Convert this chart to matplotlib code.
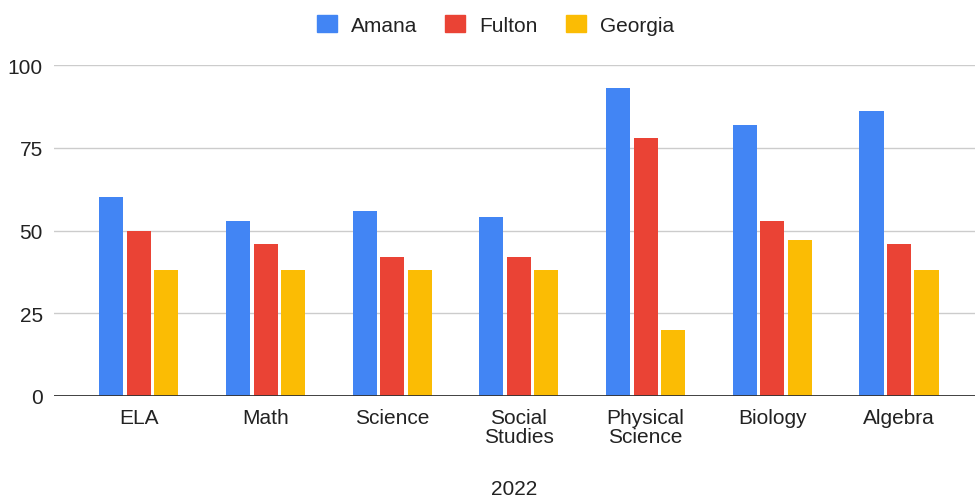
import numpy as np
import matplotlib
matplotlib.use("Agg")
import matplotlib.pyplot as plt
from matplotlib.patches import Patch

# datos
materias = ["ELA", "Math", "Science", "Social\nStudies", "Physical\nScience", "Biology", "Algebra"]
amana = [60, 53, 56, 54, 93, 82, 86]
fulton = [50, 46, 42, 42, 78, 53, 46]
georgia = [38, 38, 38, 38, 20, 47, 38]
series = ["Amana", "Fulton", "Georgia"]
colores = ["#4285F4", "#EA4335", "#FBBC04"]

plt.rcParams["font.family"] = ["Liberation Sans", "DejaVu Sans"]
tam = 15

fig = plt.figure(figsize=(9.75, 5.02), dpi=100)
ax = fig.add_axes([54 / 975, 1 - 397 / 502, 1 - 54 / 975, (397 - 66) / 502])

x = np.arange(len(materias))
paso = 0.217
ancho = 0.19
for k, (vals, col) in enumerate(zip([amana, fulton, georgia], colores)):
    ax.bar(x + (k - 1) * paso, vals, width=ancho, color=col, zorder=3)

ax.set_xlim(-0.67, 6.60)
ax.set_ylim(0, 100)
ax.set_yticks([0, 25, 50, 75, 100])
ax.grid(axis="y", color="#cccccc", linewidth=1, zorder=0)
ax.axhline(0, color="#333333", linewidth=1.3, zorder=4)

for lado in ["top", "right", "left", "bottom"]:
    ax.spines[lado].set_visible(False)

ax.set_xticks(x)
ax.set_xticklabels(materias, linespacing=0.97)
ax.tick_params(axis="both", length=0, labelsize=tam, labelcolor="#222222")
ax.tick_params(axis="x", pad=9)
ax.tick_params(axis="y", pad=8)

ax.set_xlabel("2022", fontsize=tam, color="#222222", labelpad=24)

handles = [Patch(facecolor=c, edgecolor=c, label=s) for s, c in zip(series, colores)]
fig.legend(handles=handles, loc="center", bbox_to_anchor=(0.508, 0.948), ncol=3,
           frameon=False, fontsize=tam, handlelength=0.96, handleheight=0.9,
           handletextpad=0.67, columnspacing=1.35, labelcolor="#222222")

fig.savefig("out.png", dpi=100)
